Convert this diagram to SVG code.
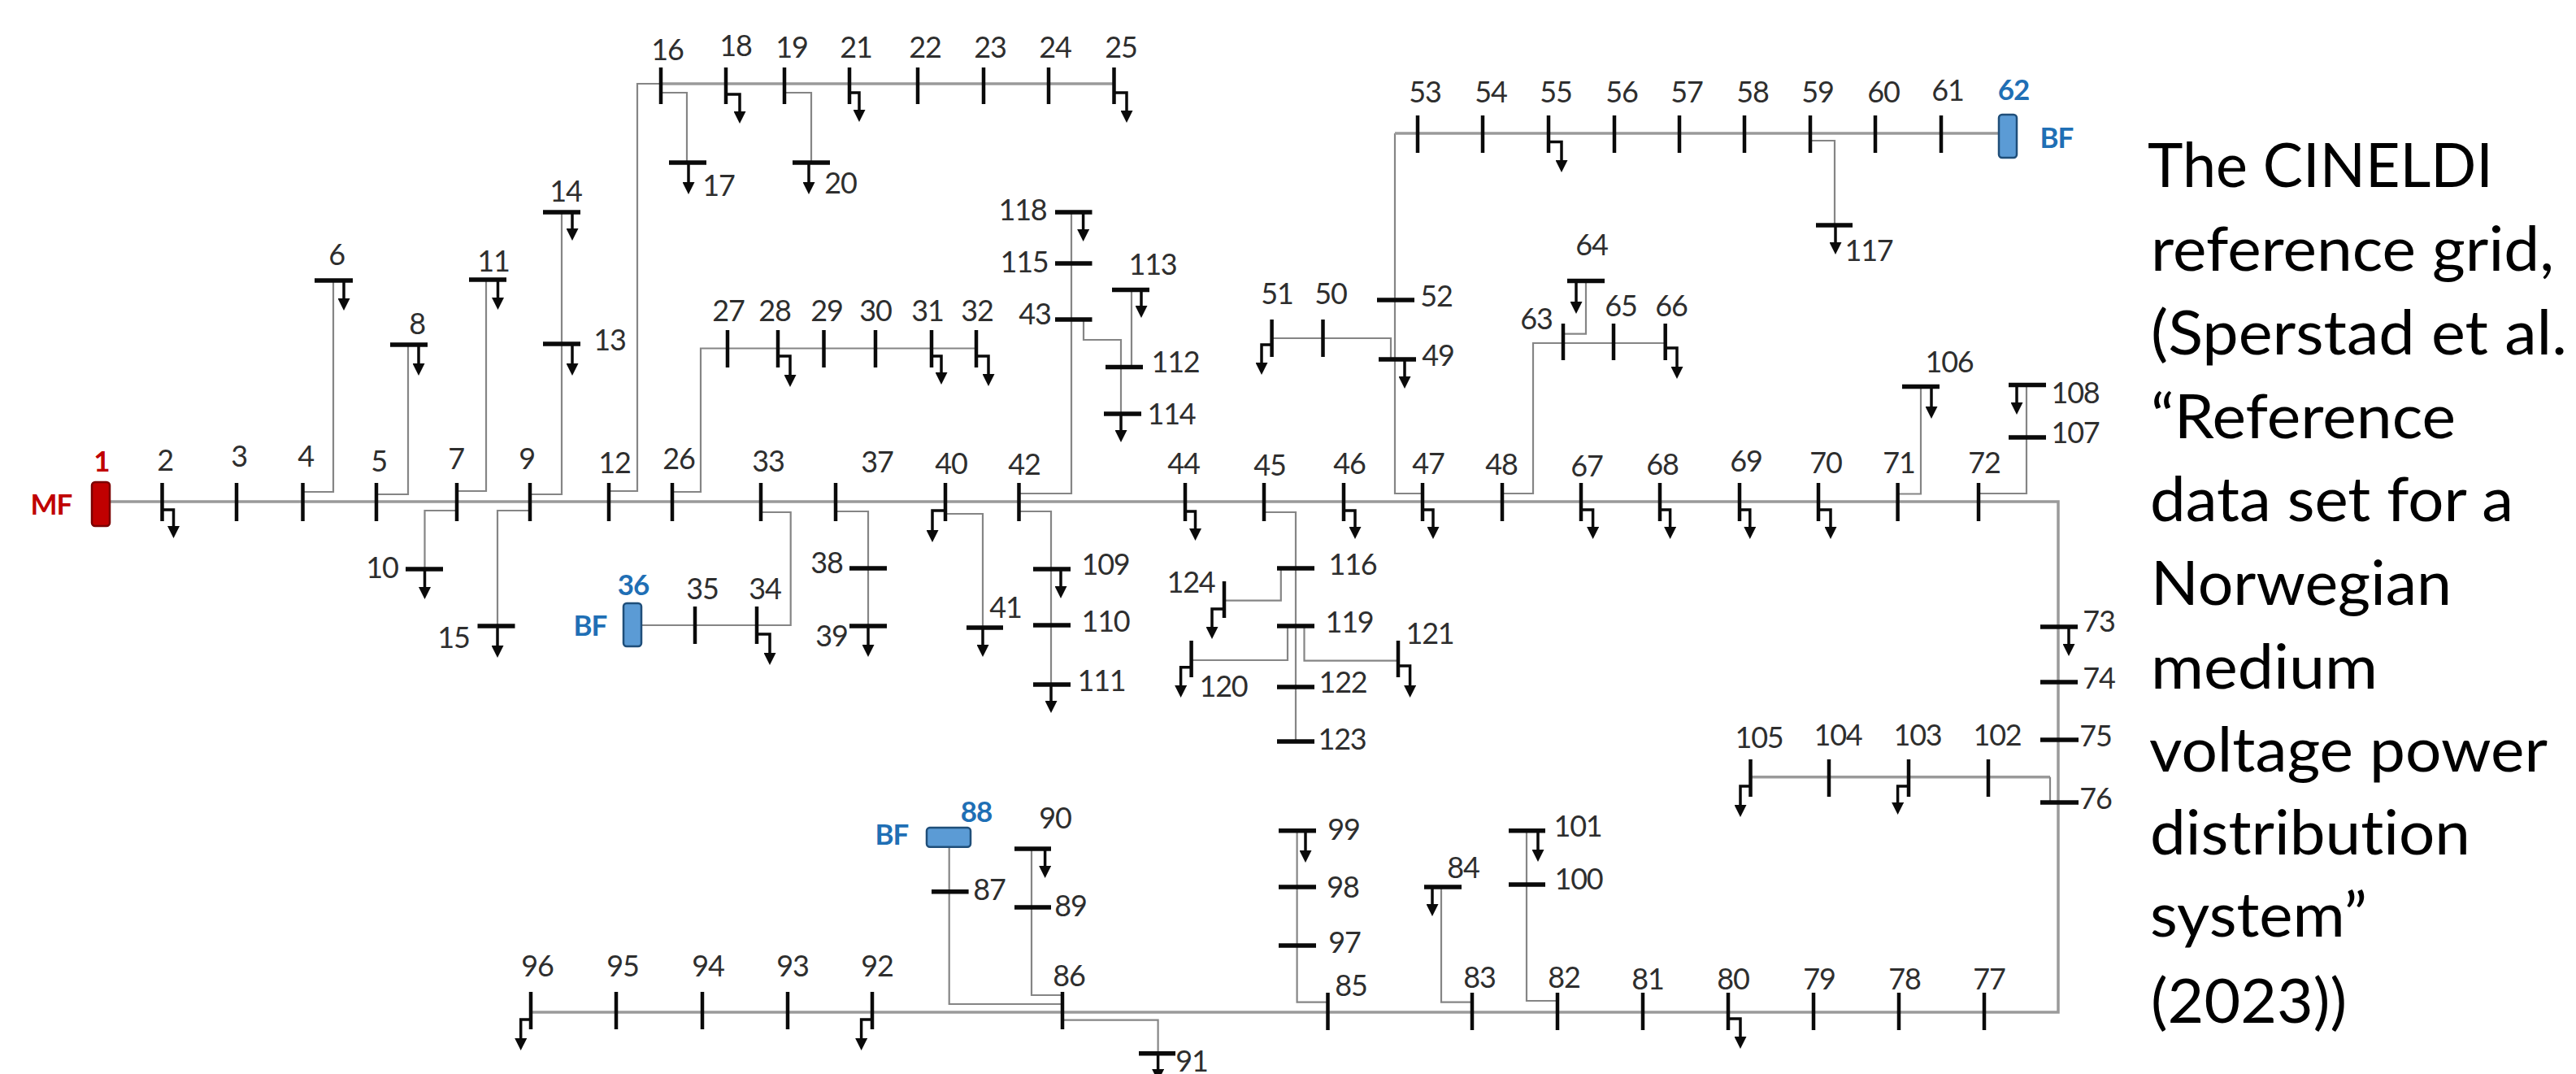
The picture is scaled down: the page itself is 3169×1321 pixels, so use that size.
<svg xmlns="http://www.w3.org/2000/svg" width="3169" height="1321" viewBox="0 0 3169 1321">
<style>
text{font-family:Lato,"Open Sans","Liberation Sans",sans-serif;font-variant-ligatures:none}
.n{font-size:36px;letter-spacing:-1.2px;fill:#2e2e2e;text-anchor:middle}
.f{font-size:35px;font-weight:700;letter-spacing:-1px;text-anchor:middle}
.red{fill:#c00000}
.blue{fill:#1f6fb5}
.cap{font-size:76px;fill:#000}
.t,.b,.l{fill:none;stroke:#0a0a0a}
.t{stroke-width:4.5}
.b{stroke-width:5.5}
.l{stroke-width:3.5;marker-end:url(#a)}
.m,.c{fill:none}
.m{stroke:#9a9a9a;stroke-width:3.5}
.c{stroke:#858585;stroke-width:2.2}
.bluebox{fill:#5b9bd5;stroke:#1f4e79;stroke-width:2.5}
.redbox{fill:#c00000;stroke:#7a0000;stroke-width:2.5}
</style>
<defs>
<marker id="a" markerUnits="userSpaceOnUse" markerWidth="15" markerHeight="15" refX="7.5" refY="0" viewBox="0 0 15 15" orient="0"><path d="M0 0H15L7.5 15Z" fill="#0a0a0a"/></marker>
</defs>
<rect width="3169" height="1321" fill="#fff"/>
<g id="connectors">
<path class="m" d="M135 617H2532V1245H653"/>
<path class="m" d="M813 103H1370.5"/>
<path class="c" d="M749 604H784V103H813"/>
<path class="c" d="M813 114H845V200"/>
<path class="c" d="M965 114H998V200"/>
<path class="c" d="M372.5 605H410V345"/>
<path class="c" d="M463 608H502V424"/>
<path class="c" d="M562 604H598V344"/>
<path class="c" d="M652 608H691V261"/>
<path class="c" d="M562 628H522.5V700"/>
<path class="c" d="M652 628H612V770"/>
<path class="c" d="M827 605H862V428.5H1201"/>
<path class="c" d="M936 630H972.7V769H789"/>
<path class="c" d="M1028 629H1068V770"/>
<path class="c" d="M1163 632H1209V772"/>
<path class="c" d="M1253.5 629H1293V842"/>
<path class="c" d="M1253.5 607H1318V261"/>
<path class="c" d="M1333 393V418H1379V509"/>
<path class="c" d="M1392 451V356.5"/>
<path class="c" d="M1750 607H1716V164"/>
<path class="m" d="M1716 164H2459"/>
<path class="c" d="M2227 173H2257V277"/>
<path class="c" d="M1564.6 416H1711V442"/>
<path class="c" d="M1848 607H1886V422H2048.7"/>
<path class="c" d="M1923 410.6H1951V345.4"/>
<path class="c" d="M2334.6 607.5H2363V475.5"/>
<path class="c" d="M2434 607H2493V473.5"/>
<path class="c" d="M1555 630H1594V912"/>
<path class="c" d="M1575.8 699V738.7H1506"/>
<path class="c" d="M1584 770V812H1465.6"/>
<path class="c" d="M1604.5 770V812.7H1720"/>
<path class="m" d="M2153.5 955.7H2522"/>
<path class="c" d="M2522 955.7V987"/>
<path class="c" d="M1633.5 1232.7H1595.6V1021.7"/>
<path class="c" d="M1811 1232.7H1773V1091"/>
<path class="c" d="M1916 1231H1878V1021.7"/>
<path class="c" d="M1307 1235H1167.7V1041"/>
<path class="c" d="M1307 1224H1269V1044"/>
<path class="c" d="M1307 1254.7H1424.6V1295.7"/>
</g>
<g id="n1"><rect class="redbox" x="113" y="593" width="22" height="54" rx="4"/><text class="f red" x="125" y="580">1</text><text class="f red" x="63" y="633">MF</text></g>
<g id="n2"><path class="t" d="M199.5 594V641"/><path class="l" d="M199.5 627H213.5V647"/><text class="n" x="203" y="579">2</text></g>
<g id="n3"><path class="t" d="M291 594V641"/><text class="n" x="294" y="574">3</text></g>
<g id="n4"><path class="t" d="M372.5 594V641"/><text class="n" x="376" y="574">4</text></g>
<g id="n5"><path class="t" d="M463 594V641"/><text class="n" x="466" y="580">5</text></g>
<g id="n6"><path class="b" d="M387 345H434"/><path class="l" d="M423 345V367"/><text class="n" x="414" y="326">6</text></g>
<g id="n7"><path class="t" d="M562 594V641"/><text class="n" x="561" y="577">7</text></g>
<g id="n8"><path class="b" d="M480 424H526"/><path class="l" d="M515 424V447"/><text class="n" x="513" y="411">8</text></g>
<g id="n9"><path class="t" d="M652 594V641"/><text class="n" x="648" y="577">9</text></g>
<g id="n10"><path class="b" d="M499 700H545"/><path class="l" d="M522.5 700V722"/><text class="n" x="470" y="711">10</text></g>
<g id="n11"><path class="b" d="M577 344H623"/><path class="l" d="M612.5 344V366"/><text class="n" x="607" y="334">11</text></g>
<g id="n12"><path class="t" d="M749 594V641"/><text class="n" x="756" y="582">12</text></g>
<g id="n13"><path class="b" d="M668 423H714"/><path class="l" d="M704 423V447"/><text class="n" x="750" y="431">13</text></g>
<g id="n14"><path class="b" d="M668 261H714"/><path class="l" d="M704 261V281"/><text class="n" x="696" y="248">14</text></g>
<g id="n15"><path class="b" d="M587.5 770H633.5"/><path class="l" d="M612 770V794"/><text class="n" x="558" y="797">15</text></g>
<g id="n16"><path class="t" d="M813 83V128"/><text class="n" x="821" y="74">16</text></g>
<g id="n17"><path class="b" d="M823 200H869"/><path class="l" d="M847 200V224"/><text class="n" x="884" y="241">17</text></g>
<g id="n18"><path class="t" d="M893 83V128"/><path class="l" d="M893 116H910V137"/><text class="n" x="905" y="69">18</text></g>
<g id="n19"><path class="t" d="M965 83V128"/><text class="n" x="974" y="71">19</text></g>
<g id="n20"><path class="b" d="M975 200H1021"/><path class="l" d="M995 200V224"/><text class="n" x="1034" y="238">20</text></g>
<g id="n21"><path class="t" d="M1045 83V128"/><path class="l" d="M1045 114H1057V135"/><text class="n" x="1053" y="71">21</text></g>
<g id="n22"><path class="t" d="M1129 83V128"/><text class="n" x="1138" y="71">22</text></g>
<g id="n23"><path class="t" d="M1210 83V128"/><text class="n" x="1218" y="71">23</text></g>
<g id="n24"><path class="t" d="M1290 83V128"/><text class="n" x="1298" y="71">24</text></g>
<g id="n25"><path class="t" d="M1370.5 83V128"/><path class="l" d="M1370.5 114H1386V136"/><text class="n" x="1379" y="71">25</text></g>
<g id="n26"><path class="t" d="M827 594V641"/><text class="n" x="835" y="577">26</text></g>
<g id="n27"><path class="t" d="M895 406V452"/><text class="n" x="896" y="395">27</text></g>
<g id="n28"><path class="t" d="M957 406V452"/><path class="l" d="M957 438H972V461"/><text class="n" x="953" y="395">28</text></g>
<g id="n29"><path class="t" d="M1013.5 406V452"/><text class="n" x="1017" y="395">29</text></g>
<g id="n30"><path class="t" d="M1077 406V452"/><text class="n" x="1077" y="395">30</text></g>
<g id="n31"><path class="t" d="M1146 406V452"/><path class="l" d="M1146 438H1158V458"/><text class="n" x="1141" y="395">31</text></g>
<g id="n32"><path class="t" d="M1201 406V452"/><path class="l" d="M1201 438H1216V460"/><text class="n" x="1202" y="395">32</text></g>
<g id="n33"><path class="t" d="M936 594V641"/><text class="n" x="945" y="580">33</text></g>
<g id="n34"><path class="t" d="M931 746V792"/><path class="l" d="M931 780H947V803"/><text class="n" x="941" y="737">34</text></g>
<g id="n35"><path class="t" d="M855 746V792"/><text class="n" x="864" y="737">35</text></g>
<g id="n36"><rect class="bluebox" x="767" y="742" width="22" height="53" rx="4"/><text class="f blue" x="779" y="732">36</text><text class="f blue" x="726" y="782">BF</text></g>
<g id="n37"><path class="t" d="M1028 594V641"/><text class="n" x="1079" y="581">37</text></g>
<g id="n38"><path class="b" d="M1045 699H1091"/><text class="n" x="1017" y="705">38</text></g>
<g id="n39"><path class="b" d="M1045 770H1091"/><path class="l" d="M1068 770V793"/><text class="n" x="1023" y="795">39</text></g>
<g id="n40"><path class="t" d="M1163 594V641"/><path class="l" d="M1163 628H1147V652"/><text class="n" x="1170" y="583">40</text></g>
<g id="n41"><path class="b" d="M1189 772H1234"/><path class="l" d="M1209 772V793"/><text class="n" x="1237" y="760">41</text></g>
<g id="n42"><path class="t" d="M1253.5 594V641"/><text class="n" x="1260" y="584">42</text></g>
<g id="n43"><path class="b" d="M1298 393H1343.5"/><text class="n" x="1273" y="399">43</text></g>
<g id="n44"><path class="t" d="M1458 594V641"/><path class="l" d="M1458 629H1470.5V650"/><text class="n" x="1456" y="583">44</text></g>
<g id="n45"><path class="t" d="M1555 594V641"/><text class="n" x="1562" y="585">45</text></g>
<g id="n46"><path class="t" d="M1653 594V641"/><path class="l" d="M1653 628H1667V648"/><text class="n" x="1660" y="583">46</text></g>
<g id="n47"><path class="t" d="M1750 594V641"/><path class="l" d="M1750 627H1763V648"/><text class="n" x="1757" y="583">47</text></g>
<g id="n48"><path class="t" d="M1848 594V641"/><text class="n" x="1847" y="584">48</text></g>
<g id="n49"><path class="b" d="M1696 442H1742"/><path class="l" d="M1728 442V463"/><text class="n" x="1769" y="450">49</text></g>
<g id="n50"><path class="t" d="M1627.5 393V439"/><text class="n" x="1637" y="374">50</text></g>
<g id="n51"><path class="t" d="M1564.6 393V439"/><path class="l" d="M1564.6 424H1552V446"/><text class="n" x="1571" y="374">51</text></g>
<g id="n52"><path class="b" d="M1694 369H1740"/><text class="n" x="1767" y="377">52</text></g>
<g id="n53"><path class="t" d="M1744 142V188"/><text class="n" x="1753" y="126">53</text></g>
<g id="n54"><path class="t" d="M1824 142V188"/><text class="n" x="1834" y="126">54</text></g>
<g id="n55"><path class="t" d="M1905 142V188"/><path class="l" d="M1905 174.5H1921V197"/><text class="n" x="1914" y="126">55</text></g>
<g id="n56"><path class="t" d="M1986 142V188"/><text class="n" x="1995" y="126">56</text></g>
<g id="n57"><path class="t" d="M2066 142V188"/><text class="n" x="2075" y="126">57</text></g>
<g id="n58"><path class="t" d="M2146 142V188"/><text class="n" x="2156" y="126">58</text></g>
<g id="n59"><path class="t" d="M2227 142V188"/><text class="n" x="2236" y="126">59</text></g>
<g id="n60"><path class="t" d="M2307 142V188"/><text class="n" x="2317" y="126">60</text></g>
<g id="n61"><path class="t" d="M2388 142V188"/><text class="n" x="2396" y="124">61</text></g>
<g id="n62"><rect class="bluebox" x="2459" y="141" width="22" height="53" rx="4"/><text class="f blue" x="2477" y="123">62</text><text class="f blue" x="2530" y="182">BF</text></g>
<g id="n63"><path class="t" d="M1923 398V443"/><text class="n" x="1890" y="405">63</text></g>
<g id="n64"><path class="b" d="M1928 345.4H1974"/><path class="l" d="M1939 345.4V371"/><text class="n" x="1958" y="314">64</text></g>
<g id="n65"><path class="t" d="M1985 398V443"/><text class="n" x="1994" y="389">65</text></g>
<g id="n66"><path class="t" d="M2048.7 398V443"/><path class="l" d="M2048.7 428H2063V451"/><text class="n" x="2056" y="389">66</text></g>
<g id="n67"><path class="t" d="M1945 594V641"/><path class="l" d="M1945 627H1959.6V648"/><text class="n" x="1952" y="586">67</text></g>
<g id="n68"><path class="t" d="M2042 594V641"/><path class="l" d="M2042 627H2054.6V648"/><text class="n" x="2045" y="584">68</text></g>
<g id="n69"><path class="t" d="M2140 594V641"/><path class="l" d="M2140 627H2152.8V648"/><text class="n" x="2148" y="580">69</text></g>
<g id="n70"><path class="t" d="M2237 594V641"/><path class="l" d="M2237 627H2252V648"/><text class="n" x="2246" y="582">70</text></g>
<g id="n71"><path class="t" d="M2334.6 594V641"/><text class="n" x="2336" y="582">71</text></g>
<g id="n72"><path class="t" d="M2434 594V641"/><text class="n" x="2441" y="582">72</text></g>
<g id="n73"><path class="b" d="M2510 771H2556"/><path class="l" d="M2545 771V792"/><text class="n" x="2582" y="777">73</text></g>
<g id="n74"><path class="b" d="M2510 839H2556"/><text class="n" x="2582" y="847">74</text></g>
<g id="n75"><path class="b" d="M2510 910H2557"/><text class="n" x="2578" y="918">75</text></g>
<g id="n76"><path class="b" d="M2510 987H2557"/><text class="n" x="2578" y="995">76</text></g>
<g id="n77"><path class="t" d="M2441 1221V1267"/><text class="n" x="2447" y="1217">77</text></g>
<g id="n78"><path class="t" d="M2336 1221V1267"/><text class="n" x="2343" y="1217">78</text></g>
<g id="n79"><path class="t" d="M2231 1221V1267"/><text class="n" x="2238" y="1217">79</text></g>
<g id="n80"><path class="t" d="M2126 1221V1267"/><path class="l" d="M2126 1253H2141V1275"/><text class="n" x="2132" y="1217">80</text></g>
<g id="n81"><path class="t" d="M2021 1221V1267"/><text class="n" x="2027" y="1217">81</text></g>
<g id="n82"><path class="t" d="M1916 1221V1267"/><text class="n" x="1924" y="1215">82</text></g>
<g id="n83"><path class="t" d="M1811 1221V1267"/><text class="n" x="1820" y="1215">83</text></g>
<g id="n84"><path class="b" d="M1752 1091H1798"/><path class="l" d="M1762 1091V1112"/><text class="n" x="1800" y="1080">84</text></g>
<g id="n85"><path class="t" d="M1633.5 1221V1267"/><text class="n" x="1662" y="1225">85</text></g>
<g id="n86"><path class="t" d="M1307 1220V1266"/><text class="n" x="1315" y="1213">86</text></g>
<g id="n87"><path class="b" d="M1146 1096.7H1191.6"/><text class="n" x="1217" y="1107">87</text></g>
<g id="n88"><rect class="bluebox" x="1140" y="1018" width="54" height="23.7" rx="4"/><text class="f blue" x="1201" y="1011">88</text><text class="f blue" x="1097" y="1039">BF</text></g>
<g id="n89"><path class="b" d="M1248 1116H1293"/><text class="n" x="1317" y="1127">89</text></g>
<g id="n90"><path class="b" d="M1248 1044H1293"/><path class="l" d="M1285.6 1044V1065"/><text class="n" x="1298" y="1019">90</text></g>
<g id="n91"><path class="b" d="M1401 1295.7H1446"/><path class="l" d="M1424.6 1295.7V1315"/><text class="n" x="1466" y="1318">91</text></g>
<g id="n92"><path class="t" d="M1073 1220V1266"/><path class="l" d="M1073 1254H1059.6V1277"/><text class="n" x="1079" y="1201">92</text></g>
<g id="n93"><path class="t" d="M969 1220V1266"/><text class="n" x="975" y="1201">93</text></g>
<g id="n94"><path class="t" d="M864 1220V1266"/><text class="n" x="871" y="1201">94</text></g>
<g id="n95"><path class="t" d="M758 1220V1266"/><text class="n" x="766" y="1201">95</text></g>
<g id="n96"><path class="t" d="M653 1220V1266"/><path class="l" d="M653 1254H640.7V1277"/><text class="n" x="661" y="1201">96</text></g>
<g id="n97"><path class="b" d="M1573 1163H1619"/><text class="n" x="1654" y="1172">97</text></g>
<g id="n98"><path class="b" d="M1573 1091H1619"/><text class="n" x="1652" y="1104">98</text></g>
<g id="n99"><path class="b" d="M1573 1021.7H1619"/><path class="l" d="M1606 1021.7V1046"/><text class="n" x="1653" y="1033">99</text></g>
<g id="n100"><path class="b" d="M1856 1088H1901"/><text class="n" x="1942" y="1094">100</text></g>
<g id="n101"><path class="b" d="M1856 1021.7H1901"/><path class="l" d="M1892 1021.7V1045"/><text class="n" x="1941" y="1029">101</text></g>
<g id="n102"><path class="t" d="M2446 934V980"/><text class="n" x="2457" y="917">102</text></g>
<g id="n103"><path class="t" d="M2348 934V980"/><path class="l" d="M2348 967H2334.6V987"/><text class="n" x="2359" y="917">103</text></g>
<g id="n104"><path class="t" d="M2250 934V980"/><text class="n" x="2261" y="917">104</text></g>
<g id="n105"><path class="t" d="M2153.5 934V980"/><path class="l" d="M2153.5 967H2141V990"/><text class="n" x="2164" y="920">105</text></g>
<g id="n106"><path class="b" d="M2340 475.5H2386"/><path class="l" d="M2376 475.5V500"/><text class="n" x="2398" y="458">106</text></g>
<g id="n107"><path class="b" d="M2471 538H2517"/><text class="n" x="2553" y="545">107</text></g>
<g id="n108"><path class="b" d="M2471 473.5H2517"/><path class="l" d="M2481 473.5V495"/><text class="n" x="2553" y="496">108</text></g>
<g id="n109"><path class="b" d="M1271 700H1317"/><path class="l" d="M1305 700V721"/><text class="n" x="1360" y="707">109</text></g>
<g id="n110"><path class="b" d="M1271 769H1317"/><text class="n" x="1360" y="777">110</text></g>
<g id="n111"><path class="b" d="M1271 842H1317"/><path class="l" d="M1293 842V862"/><text class="n" x="1355" y="850">111</text></g>
<g id="n112"><path class="b" d="M1360 451.6H1406"/><text class="n" x="1446" y="458">112</text></g>
<g id="n113"><path class="b" d="M1368 356.5H1414"/><path class="l" d="M1404 356.5V376"/><text class="n" x="1418" y="338">113</text></g>
<g id="n114"><path class="b" d="M1358 509H1404"/><path class="l" d="M1379 509V529"/><text class="n" x="1441" y="522">114</text></g>
<g id="n115"><path class="b" d="M1298 324H1343.5"/><text class="n" x="1260" y="335">115</text></g>
<g id="n116"><path class="b" d="M1571 699H1617"/><text class="n" x="1664" y="707">116</text></g>
<g id="n117"><path class="b" d="M2234 277H2279"/><path class="l" d="M2258 277V298"/><text class="n" x="2299" y="321">117</text></g>
<g id="n118"><path class="b" d="M1298 261H1343.5"/><path class="l" d="M1332.6 261V282"/><text class="n" x="1258" y="271">118</text></g>
<g id="n119"><path class="b" d="M1571 770H1617"/><text class="n" x="1660" y="778">119</text></g>
<g id="n120"><path class="t" d="M1465.6 788V833"/><path class="l" d="M1465.6 820.7H1452.6V843"/><text class="n" x="1505" y="857">120</text></g>
<g id="n121"><path class="t" d="M1720 788V833"/><path class="l" d="M1720 819H1734.6V843"/><text class="n" x="1759" y="792">121</text></g>
<g id="n122"><path class="b" d="M1571 845H1617"/><text class="n" x="1652" y="852">122</text></g>
<g id="n123"><path class="b" d="M1571 912H1617"/><text class="n" x="1651" y="922">123</text></g>
<g id="n124"><path class="t" d="M1506 715V760"/><path class="l" d="M1506 749H1491V771"/><text class="n" x="1465" y="729">124</text></g>
<g id="caption">
<text class="cap" x="2642" y="230" textLength="425" lengthAdjust="spacingAndGlyphs">The CINELDI</text>
<text class="cap" x="2646" y="333" textLength="496" lengthAdjust="spacingAndGlyphs">reference grid,</text>
<text class="cap" x="2646" y="436" textLength="512" lengthAdjust="spacingAndGlyphs">(Sperstad et al.</text>
<text class="cap" x="2646" y="539" textLength="375" lengthAdjust="spacingAndGlyphs">“Reference</text>
<text class="cap" x="2645" y="641" textLength="447" lengthAdjust="spacingAndGlyphs">data set for a</text>
<text class="cap" x="2646" y="744" textLength="370" lengthAdjust="spacingAndGlyphs">Norwegian</text>
<text class="cap" x="2646" y="847" textLength="279" lengthAdjust="spacingAndGlyphs">medium</text>
<text class="cap" x="2644" y="949" textLength="490" lengthAdjust="spacingAndGlyphs">voltage power</text>
<text class="cap" x="2645" y="1051" textLength="394" lengthAdjust="spacingAndGlyphs">distribution</text>
<text class="cap" x="2645" y="1152" textLength="267" lengthAdjust="spacingAndGlyphs">system”</text>
<text class="cap" x="2646" y="1258" textLength="241" lengthAdjust="spacingAndGlyphs">(2023))</text>
</g>
</svg>
